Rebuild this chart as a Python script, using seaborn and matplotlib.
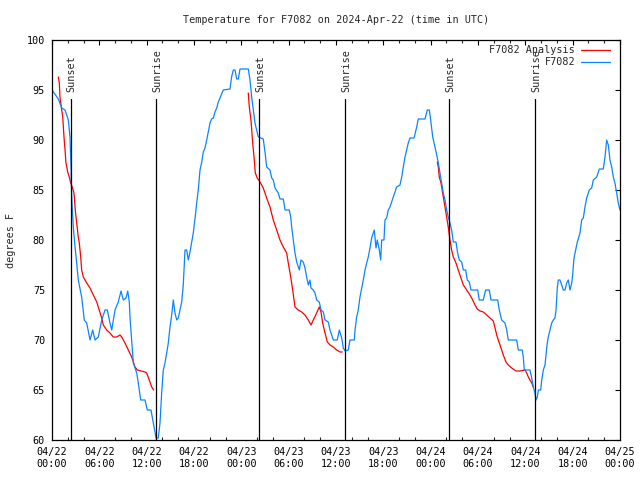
import numpy as np
import pandas as pd
import matplotlib
matplotlib.use("Agg")
import matplotlib.pyplot as plt
import seaborn as sns

# ---- data (hours since 2024-04-22 00:00 UTC, degrees F) ----
obs_hours = [0.0, 0.80, 1.23, 1.65, 2.07, 2.28, 2.41, 2.50, 2.70, 2.92, 3.13, 3.33, 3.76, 4.09, 4.40, 4.82,
             5.16, 5.45, 5.87, 6.30, 6.72, 7.01, 7.35, 7.57, 7.99, 8.40, 8.75, 9.04, 9.38, 9.60, 9.80, 9.89,
             10.10, 10.31, 10.74, 10.94, 11.24, 11.79, 12.08, 12.55, 12.84, 13.06, 13.18, 13.47, 13.69, 13.90,
             14.11, 14.32, 14.54, 14.74, 14.96, 15.17, 15.38, 15.59, 15.81, 16.01, 16.22, 16.44, 16.64, 16.86,
             17.07, 17.28, 17.49, 17.71, 17.91, 18.21, 18.34, 18.54, 18.76, 18.98, 19.18, 19.39, 19.61, 19.81,
             20.03, 20.24, 20.45, 20.66, 20.88, 21.08, 21.30, 21.71, 22.56, 22.77, 22.98, 23.20, 23.41, 23.62,
             23.83, 24.88, 25.10, 25.31, 25.52, 25.73, 26.15, 26.78, 27.00, 27.21, 27.63, 27.85, 28.05, 28.27,
             28.69, 28.90, 29.32, 29.54, 30.08, 30.26, 30.38, 30.59, 30.80, 31.02, 31.22, 31.35, 31.56, 31.85,
             32.07, 32.28, 32.49, 32.70, 32.83, 33.12, 33.34, 33.55, 33.88, 34.10, 34.39, 34.61, 35.02, 35.24,
             35.66, 36.16, 36.42, 36.72, 36.93, 37.14, 37.56, 37.77, 38.32, 38.41, 38.62, 38.82, 39.04, 39.26,
             39.46, 39.68, 39.89, 40.09, 40.31, 40.52, 40.73, 40.85, 40.94, 41.07, 41.23, 41.49, 41.66, 41.79,
             42.08, 42.21, 42.42, 42.63, 42.84, 43.26, 43.69, 44.11, 44.33, 44.53, 44.75, 44.96, 45.16, 45.38,
             45.89, 46.23, 46.43, 47.28, 47.57, 47.83, 48.00, 48.26, 48.55, 48.77, 48.97, 49.18, 49.40, 49.60,
             49.82, 50.03, 50.23, 50.45, 50.66, 50.87, 51.21, 51.42, 51.63, 51.93, 52.14, 52.44, 52.64, 52.90,
             53.11, 53.96, 54.16, 54.67, 54.97, 55.43, 55.65, 56.50, 56.70, 57.00, 57.42, 57.64, 57.84, 58.90,
             59.11, 59.61, 59.74, 59.87, 60.59, 60.81, 61.01, 61.22, 61.35, 61.52, 61.65, 61.95, 62.08, 62.28,
             62.49, 62.62, 62.78, 62.91, 63.13, 63.34, 63.55, 63.76, 63.89, 64.05, 64.18, 64.39, 64.61, 64.81,
             65.03, 65.24, 65.45, 65.66, 65.88, 66.00, 66.17, 66.38, 66.59, 66.71, 66.93, 67.14, 67.35, 67.56,
             67.78, 68.11, 68.41, 68.62, 69.05, 69.38, 69.88, 70.10, 70.31, 70.52, 70.73, 70.95, 71.15, 71.36,
             71.58, 71.78, 72.00]
obs_temp = [95.0, 94.1, 93.2, 93.0, 92.0, 90.3, 87.3, 84.3, 81.3, 79.3, 77.7, 76.0, 74.3, 72.0, 71.7, 70.0,
            71.0, 70.0, 70.3, 72.0, 73.0, 73.0, 71.7, 71.0, 73.0, 73.8, 74.9, 74.0, 74.2, 74.9, 73.8, 72.2,
            70.0, 67.7, 66.7, 65.7, 64.0, 64.0, 63.0, 63.0, 61.7, 60.8, 60.2, 60.2, 61.7, 64.7,
            67.0, 67.7, 68.7, 69.7, 71.3, 72.5, 74.0, 72.7, 72.0, 72.2, 73.0, 73.8, 75.5, 79.0,
            79.0, 78.0, 78.8, 79.8, 80.7, 82.7, 83.7, 85.0, 87.0, 87.8, 88.8, 89.2, 90.0, 90.8,
            91.7, 92.1, 92.2, 92.8, 93.2, 93.8, 94.2, 95.0, 95.1, 96.3, 97.0, 97.0, 96.1, 96.1,
            97.1, 97.1, 96.0, 94.3, 93.0, 91.7, 90.3, 90.1, 88.8, 87.3, 87.0, 86.2, 86.0, 85.2,
            84.7, 84.1, 84.1, 83.0, 83.0, 82.3, 81.3, 80.0, 78.7, 77.8, 77.3, 77.0, 78.0, 77.8,
            77.2, 76.3, 75.5, 76.0, 75.2, 75.0, 74.7, 74.0, 73.8, 73.0, 72.8, 72.0, 71.8, 71.0,
            70.0, 70.0, 71.0, 70.2, 69.2, 68.9, 69.0, 70.0, 70.0, 71.0, 72.3, 73.0, 74.3, 75.2,
            76.0, 77.0, 77.7, 78.3, 79.2, 80.2, 80.7, 81.0, 80.3, 79.2, 80.0, 79.0, 78.0, 80.0,
            80.0, 82.0, 82.2, 83.0, 83.3, 84.3, 85.3, 85.5, 86.3, 87.3, 88.3, 89.0, 89.7, 90.2,
            90.2, 91.3, 92.1, 92.1, 93.0, 93.0, 92.0, 90.3, 89.3, 88.5, 87.7, 86.7, 85.7, 84.7,
            84.0, 83.0, 82.3, 81.7, 81.0, 79.8, 79.8, 78.7, 78.0, 77.8, 77.0, 77.0, 76.0, 75.8,
            75.0, 75.0, 74.0, 74.0, 75.0, 75.0, 74.0, 74.0, 73.0, 72.0, 71.7, 71.0, 70.0, 70.0,
            69.0, 69.0, 68.3, 67.0, 67.0, 66.2, 65.3, 64.7, 64.0, 64.3, 65.0, 65.0, 66.0, 67.0,
            67.5, 68.5, 69.7, 70.3, 71.0, 71.7, 72.0, 72.2, 73.0, 75.2, 76.0, 76.0, 75.5, 75.0,
            75.0, 75.7, 76.0, 75.0, 75.7, 76.5, 78.2, 79.0, 79.8, 80.1, 80.7, 82.0, 82.2, 83.3,
            84.2, 85.0, 85.2, 86.0, 86.3, 87.1, 87.1, 88.3, 90.0, 89.5, 88.0, 87.3, 86.3, 85.7,
            84.7, 83.7, 83.0]

ana1_hours = [0.80, 0.93, 1.01, 1.23, 1.36, 1.52, 1.65, 1.77, 1.99, 2.19, 2.37, 2.57, 2.79, 2.95, 3.13, 3.33,
              3.46, 3.64, 3.76, 3.97, 4.40, 4.82, 5.24, 5.67, 5.99, 6.30, 6.50, 6.93, 7.35, 7.77, 8.20, 8.62,
              8.84, 9.25, 9.67, 10.10, 10.52, 10.81, 11.79, 12.00, 12.33, 12.64, 12.89]
ana1_temp = [96.3, 95.7, 94.3, 93.0, 92.3, 90.3, 89.0, 87.7, 86.8, 86.3, 85.7, 85.3, 84.7, 83.0, 81.7, 80.3,
             79.7, 78.3, 77.0, 76.3, 75.7, 75.2, 74.5, 73.8, 73.0, 72.2, 71.5, 71.0, 70.7, 70.3, 70.3, 70.5,
             70.3, 69.7, 69.0, 68.3, 67.3, 67.0, 66.8, 66.7, 66.0, 65.3, 65.0]
ana2_hours = [24.88, 25.01, 25.22, 25.44, 25.61, 25.77, 26.02, 26.37, 26.78, 27.21, 27.63, 28.05, 28.48,
              28.90, 29.32, 29.75, 29.95, 30.26, 30.51, 30.80, 31.22, 31.65, 32.07, 32.49, 32.83, 33.12,
              33.55, 33.88, 34.10, 34.31, 34.61, 34.90, 35.24, 35.66, 36.09, 36.51, 36.80]
ana2_temp = [94.7, 93.3, 92.0, 89.7, 88.3, 86.7, 86.2, 85.8, 85.2, 84.2, 83.3, 82.0, 81.0,
             80.0, 79.3, 78.7, 77.7, 76.3, 75.0, 73.3, 73.0, 72.8, 72.5, 72.0, 71.5, 72.0,
             72.7, 73.3, 72.8, 71.7, 70.7, 69.8, 69.5, 69.3, 69.0, 68.8, 68.8]
ana3_hours = [48.84, 48.97, 49.09, 49.31, 49.52, 49.73, 49.94, 50.23, 50.45, 50.66, 50.87, 51.21, 51.50,
              51.84, 52.14, 52.57, 52.98, 53.33, 53.62, 53.91, 54.25, 54.67, 55.10, 55.52, 55.94, 56.16,
              56.37, 56.57, 56.79, 57.00, 57.21, 57.55, 57.84, 58.27, 58.82, 59.32, 59.96, 60.17, 60.38,
              60.59, 60.81, 61.01]
ana3_temp = [87.8, 87.3, 86.3, 85.7, 84.7, 83.7, 82.7, 81.3, 80.0, 79.0, 78.3, 77.7, 77.0,
             76.2, 75.5, 75.0, 74.5, 74.0, 73.5, 73.1, 72.9, 72.8, 72.5, 72.2, 71.9, 71.2,
             70.5, 70.0, 69.5, 69.0, 68.5, 67.8, 67.5, 67.2, 66.9, 66.9, 67.0, 66.7, 66.3,
             66.0, 65.7, 65.3]

sunset_hours = [2.35, 26.27, 50.36]
sunrise_hours = [13.22, 37.18, 61.27]
sun_line_top = 94.1
sun_label_base = 94.8

x_tick_hours = [0, 6, 12, 18, 24, 30, 36, 42, 48, 54, 60, 66, 72]
x_tick_labels = ["04/22\n00:00", "04/22\n06:00", "04/22\n12:00", "04/22\n18:00",
                 "04/23\n00:00", "04/23\n06:00", "04/23\n12:00", "04/23\n18:00",
                 "04/24\n00:00", "04/24\n06:00", "04/24\n12:00", "04/24\n18:00",
                 "04/25\n00:00"]
y_ticks = [60, 65, 70, 75, 80, 85, 90, 95, 100]

title = "Temperature for F7082 on 2024-Apr-22 (time in UTC)"
series_names = ["F7082 Analysis", "F7082"]
red = "#ff0000"
blue = "#0a84ff"

# ---- styling ----
sns.set_theme(style="white")
FS = 7.3
plt.rcParams["font.family"] = ["DejaVu Sans Mono"]
plt.rcParams["font.size"] = FS

fig = plt.figure(figsize=(6.4, 4.8), dpi=100)
ax = fig.add_axes([52 / 640, 40 / 480, 568 / 640, 400 / 480])

ana_df = pd.concat([
    pd.DataFrame({"hour": ana1_hours, "temp": ana1_temp, "seg": 1}),
    pd.DataFrame({"hour": ana2_hours, "temp": ana2_temp, "seg": 2}),
    pd.DataFrame({"hour": ana3_hours, "temp": ana3_temp, "seg": 3}),
], ignore_index=True)
obs_df = pd.DataFrame({"hour": obs_hours, "temp": obs_temp})

sns.lineplot(data=ana_df, x="hour", y="temp", units="seg", estimator=None, sort=False,
             color=red, lw=0.9, ax=ax)
sns.lineplot(data=obs_df, x="hour", y="temp", estimator=None, sort=False,
             color=blue, lw=0.9, ax=ax)

for h in sunset_hours:
    ax.plot([h, h], [60, sun_line_top], color="black", lw=0.9)
    ax.text(h + 0.1, sun_label_base, "Sunset", rotation=90, ha="center", va="bottom", fontsize=FS)
for h in sunrise_hours:
    ax.plot([h, h], [60, sun_line_top], color="black", lw=0.9)
    ax.text(h + 0.1, sun_label_base, "Sunrise", rotation=90, ha="center", va="bottom", fontsize=FS)

ax.set_xlim(0, 72)
ax.set_ylim(60, 100)
ax.set_xticks(x_tick_hours)
ax.set_xticklabels(x_tick_labels, linespacing=1.3)
ax.set_xticks(np.arange(0, 73, 2), minor=True)
ax.set_yticks(y_ticks)
ax.set_yticklabels([str(v) for v in y_ticks])
ax.tick_params(axis="both", which="major", direction="in", length=3.6, width=0.8,
               top=True, right=True, labelsize=FS, pad=5, colors="black")
ax.tick_params(axis="x", which="minor", direction="in", length=2.0, width=0.8,
               top=True, bottom=True)
for s in ax.spines.values():
    s.set_visible(True)
    s.set_color("black")
    s.set_linewidth(0.9)

ax.set_xlabel("")
ax.set_ylabel("degrees F", fontsize=FS, labelpad=8)
ax.set_title(title, fontsize=FS, pad=12)

# legend (manual, gnuplot style: right-aligned text, sample to the right)
leg_y = [50, 62.5]
for name, col, ypx in zip(series_names, [red, blue], leg_y):
    yax = 1 - (ypx - 40) / 400
    ax.text((575 - 52) / 568, yax, name, transform=ax.transAxes, ha="right", va="center", fontsize=FS)
    ax.plot([(581 - 52) / 568, (610 - 52) / 568], [yax, yax], transform=ax.transAxes,
            color=col, lw=0.9)

fig.savefig("out.png", dpi=100)
